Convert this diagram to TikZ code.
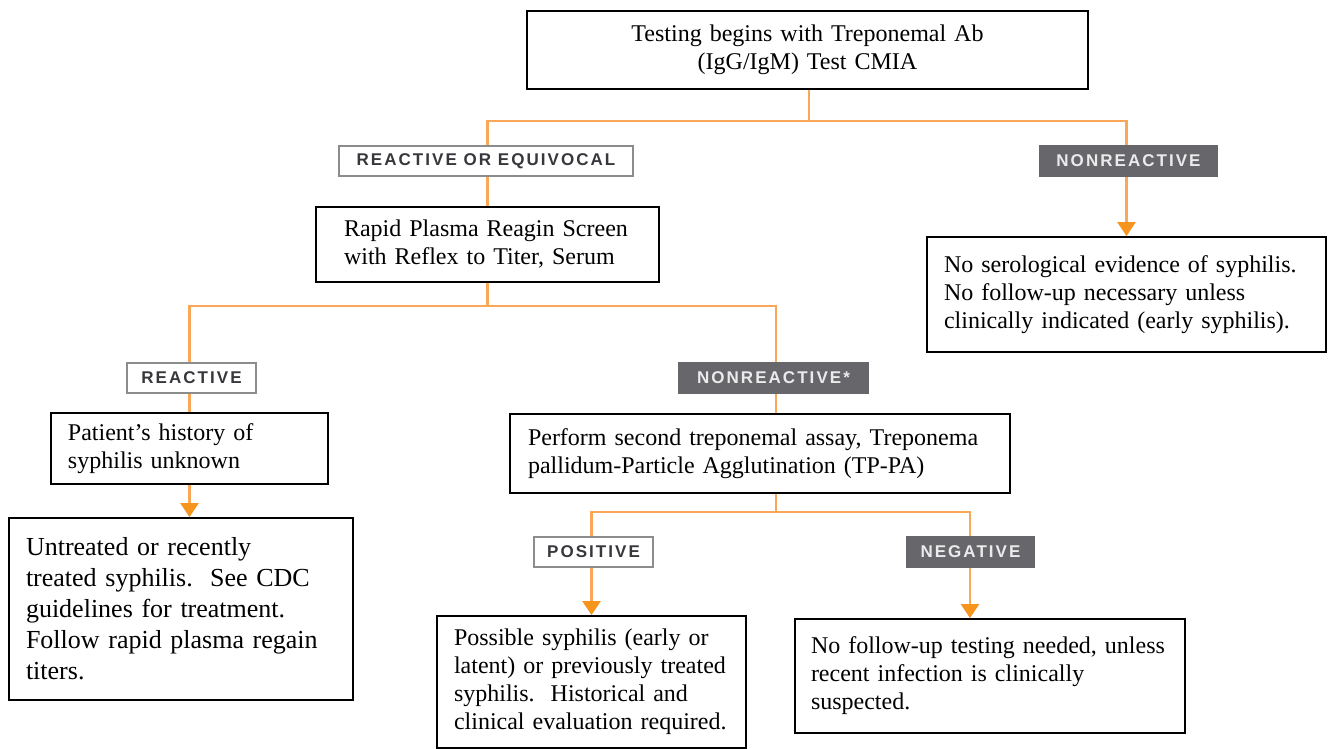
\documentclass[tikz,border=0pt]{standalone}
\usepackage{fontspec}
\setmainfont{Liberation Serif}
\newfontfamily\lblfont[LetterSpace=12]{Liberation Sans}
\usepackage{tikz}
\usetikzlibrary{arrows.meta}
\definecolor{linkorange}{RGB}{250,168,88}
\definecolor{tiporange}{RGB}{247,148,30}
\definecolor{tagdark}{RGB}{103,103,107}
\definecolor{tagedge}{RGB}{140,140,140}
\definecolor{tagtext}{RGB}{55,55,60}
\hyphenpenalty=10000
\newcommand{\boxfont}{\fontsize{12}{14}\selectfont}
\newcommand{\bigboxfont}{\fontsize{13}{15.5}\selectfont}
\newcommand{\tagfont}{\lblfont\bfseries\fontsize{8.5}{10}\selectfont}
\tikzset{
  link/.style={draw=linkorange, line width=1.2pt},
  arrow/.style={link, -{Triangle[width=9pt,length=7pt,color=tiporange]}},
  box/.style={draw, line width=0.9pt, align=left, font=\boxfont, inner ysep=0pt},
  tag/.style={draw=tagedge, line width=1pt, fill=white, text=tagtext, font=\tagfont,
    minimum height=15pt, inner xsep=0pt, inner ysep=0pt},
  darktag/.style={tag, draw=tagdark, fill=tagdark, text=white!92!black}
}
\begin{document}
\begin{tikzpicture}[x=0.5pt,y=-0.5pt]
\useasboundingbox (0,0) rectangle (1329,749);

% boxes
\node[box, align=center, text width=250pt, inner xsep=15.25pt, minimum height=39pt] (test) at (807.5,50)
  {Testing begins with Treponemal Ab\\(IgG/IgM) Test CMIA};
\node[box, text width=143.5pt, inner xsep=14pt, minimum height=37.5pt] (rpr) at (487.5,244.5)
  {Rapid Plasma Reagin Screen\\with Reflex to Titer, Serum};
\node[box, text width=182.5pt, inner xsep=8.5pt, minimum height=57.5pt] (nsy) at (1126.5,294.5)
  {No serological evidence of syphilis.\\No follow-up necessary unless\\clinically indicated (early syphilis).};
\node[box, text width=121.5pt, inner xsep=8.5pt, minimum height=35.5pt] (hist) at (189.5,448.5)
  {Patient’s history of\\syphilis unknown};
\node[box, font=\bigboxfont, text width=155pt, inner xsep=8.5pt, minimum height=91pt] (untr) at (181,609)
  {Untreated or recently\\treated syphilis.\ \ See CDC\\guidelines for treatment.\\Follow rapid plasma regain\\titers.};
\node[box, text width=232pt, inner xsep=9pt, minimum height=39.5pt] (tppa) at (760,453.5)
  {Perform second treponemal assay, Treponema\\pallidum-Particle Agglutination (TP-PA)};
\node[box, text width=137.5pt, inner xsep=8.5pt, minimum height=66pt] (poss) at (591.5,682)
  {Possible syphilis (early or\\latent) or previously treated\\syphilis.\ \ Historical and\\clinical evaluation required.};
\node[box, text width=179pt, inner xsep=8pt, minimum height=57pt] (nofu) at (990,676)
  {No follow-up testing needed, unless\\recent infection is clinically\\suspected.};

% connectors
\coordinate (j1) at (809,121);
\coordinate (j2) at (487.5,306);
\coordinate (k2) at (776,306);
\coordinate (j3) at (776,512);
\coordinate (k3) at (970,512);
\draw[link] (test.south -| j1) -- (j1);
\draw[arrow] (rpr.north) |- (j1) -| (nsy.north);
\draw[link] (rpr.south) -- (j2);
\draw[link] (hist.north) |- (k2) -- (k2 |- tppa.north);
\draw[arrow] (hist.south) -- (hist.south |- untr.north);
\draw[link] (tppa.south -| j3) -- (j3);
\draw[arrow] (j3) -| (poss.north);
\draw[arrow] (j3) -- (k3) -- (k3 |- nofu.north);

% result tags
\node[tag, minimum width=147pt] (reqv) at (486,161) {REACTIVE OR EQUIVOCAL};
\node[darktag, minimum width=88.5pt] (nonr) at (1128.5,161) {NONREACTIVE};
\node[tag, minimum width=64.5pt] (reac) at (191.5,377.5) {REACTIVE};
\node[darktag, minimum width=94.5pt] (nonrs) at (773.5,377.5) {NONREACTIVE*};
\node[tag, minimum width=59.5pt] (posi) at (593.5,552) {POSITIVE};
\node[darktag, minimum width=63.5pt] (nega) at (970.5,552) {NEGATIVE};
\end{tikzpicture}
\end{document}
